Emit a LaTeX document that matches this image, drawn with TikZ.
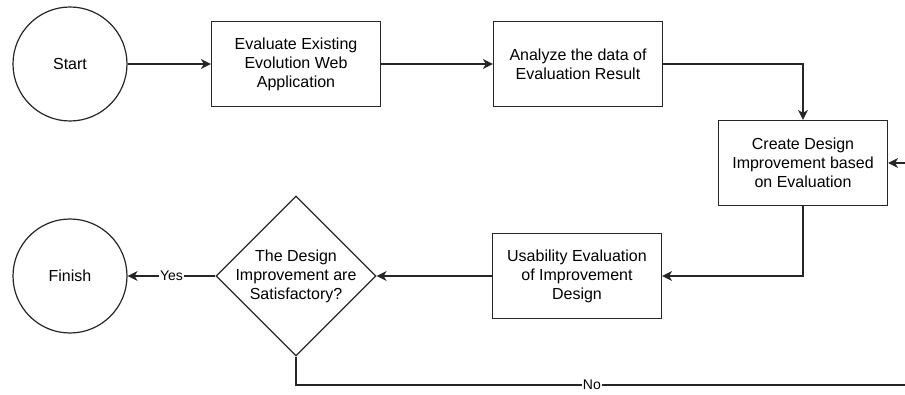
\documentclass[tikz,border=0pt]{standalone}
\usepackage{fontspec}
\setmainfont{Liberation Sans}
\usetikzlibrary{arrows.meta}
\usetikzlibrary{shapes,positioning}
\tikzset{>={Stealth[length=10pt,width=10pt,inset=3pt]}}
\colorlet{penColor}{black!85}
\tikzset{
  stepbox/.style={draw=penColor, line width=1.2pt, rectangle, minimum width=169pt, minimum height=85pt, align=center, font=\fontsize{16}{19}\selectfont},
  endpt/.style={draw=penColor, line width=1.2pt, circle, minimum size=114pt, font=\fontsize{16}{19}\selectfont},
  decide/.style={draw=penColor, line width=1.2pt, diamond, minimum width=160pt, minimum height=160pt, inner sep=-6pt, align=center, font=\fontsize{16}{19}\selectfont},
  flow/.style={->, draw=penColor, line width=1.2pt},
  lbl/.style={fill=white, inner sep=1pt, font=\fontsize{14}{16}\selectfont}
}

\begin{document}
\begin{tikzpicture}[x=1pt,y=1pt]
\useasboundingbox (0,0) rectangle (905,394);
\node[endpt] (start) at (70,330) {Start};
\node[stepbox] (eval) at (296,330) {Evaluate Existing\\Evolution Web\\Application};
\node[stepbox] (analyze) at (578,330) {Analyze the data of\\Evaluation Result};
\node[stepbox] (create) at (803,231) {Create Design\\Improvement based\\on Evaluation};
\node[stepbox] (usab) at (577,118) {Usability Evaluation\\of Improvement\\Design};
\node[decide] (dec) at (296,118) {The Design\\Improvement are\\Satisfactory?};
\node[endpt] (finish) at (70,118) {Finish};
\coordinate (loopbr) at (915,9);
% main flow
\draw[flow] (start) -- (eval);
\draw[flow] (eval) -- (analyze);
\draw[flow] (analyze.east) -| (create.north);
\draw[flow] (create.south) |- (usab.east);
\draw[flow] (usab) -- (dec);
\draw[flow] (dec) -- node[lbl] {Yes} (finish);
% loop back when not satisfactory
\draw[flow] (dec.south) |- (loopbr) node[lbl, pos=0.739] {No} |- (create.east);
\end{tikzpicture}
\end{document}
